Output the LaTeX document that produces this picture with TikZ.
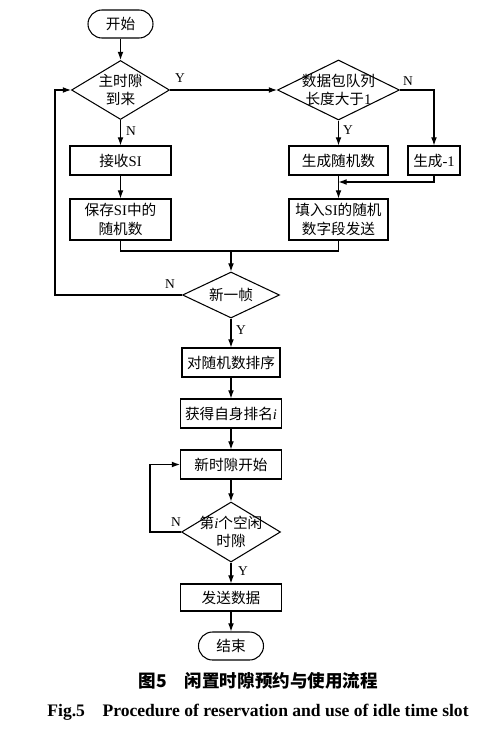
\documentclass[tikz,border=0pt]{standalone}
\usepackage{fontspec}
\setmainfont{Liberation Serif}
\newfontfamily\cjk{Noto Sans CJK SC}
\newcommand{\entext}[1]{{\rmfamily #1}}
\usetikzlibrary{calc}
\usetikzlibrary{positioning}
\usetikzlibrary{shapes.geometric}
\usetikzlibrary{arrows.meta}
\tikzstyle{termnode} = [draw, rectangle, rounded corners=0.42cm, minimum width=1.95cm, minimum height=0.84cm, inner sep=0pt]
\tikzstyle{procnode} = [draw, rectangle, minimum width=3.03cm, minimum height=0.87cm, inner sep=0pt, align=center]
\tikzstyle{decnode} = [draw, diamond, inner sep=0pt]
\tikzstyle{txtnode} = [inner sep=0pt, align=center]
\tikzstyle{ynlabel} = [inner sep=0pt, font=\fontsize{11.5}{11.5}\selectfont\rmfamily]
\tikzstyle{flow} = [-{Latex[length=7pt,width=5pt]}]

\begin{document}
\begin{tikzpicture}[x=0.03cm, y=-0.03cm, line width=0.9pt,
    every node/.append style={font=\fontsize{12.5}{16}\selectfont\cjk}]
\useasboundingbox (0,0) rectangle (490,732);

% upper part
\node[termnode] (start) at (120.5,24) {开始};
\node[decnode, minimum width=2.94cm, minimum height=1.77cm] (slot) at (120.5,90) {};
\node[txtnode] (slottxt) at (slot) {主时隙\\到来};
\node[decnode, minimum width=3.66cm, minimum height=1.8cm] (queue) at (338.5,90) {};
\node[txtnode] (queuetxt) at (queue) {数据包队列\\长度大于\entext{1}};
\node[procnode] (recv) at ($(slot)+(0,70.5)$) {接收\entext{SI}};
\node[procnode, minimum height=1.23cm] (save) at ($(recv)+(0,59)$) {保存\entext{SI}中的\\随机数};
\node[procnode, minimum width=2.97cm] (gen) at ($(queue)+(0,70.5)$) {生成随机数};
\node[procnode, minimum width=1.56cm] (genneg) at (434,160.5) {生成\entext{-1}};
\node[procnode, minimum width=2.97cm, minimum height=1.23cm] (fill) at ($(gen)+(0,59)$) {填入\entext{SI}的随机\\数字段发送};
\coordinate (merge) at (338.5,182);
\coordinate (join) at (231,251);
\coordinate (leftrail) at (55,200);

% lower part
\node[decnode, minimum width=2.91cm, minimum height=1.38cm] (frame) at (231,295) {};
\node[txtnode] (frametxt) at (frame) {新一帧};
\node[procnode, minimum width=2.94cm] (sort) at ($(frame)+(0,67.5)$) {对随机数排序};
\node[procnode] (rank) at ($(sort)+(0,51)$) {获得自身排名\entext{\itshape i}};
\node[procnode] (newslot) at ($(rank)+(0,51)$) {新时隙开始};
\node[decnode, minimum width=2.97cm, minimum height=1.8cm] (idle) at (231,532) {};
\node[txtnode] (idletxt) at (idle) {第\entext{\itshape i}个空闲\\时隙};
\node[procnode, minimum height=0.81cm] (send) at ($(idle)+(0,65.5)$) {发送数据};
\node[termnode] (stop) at (231,646) {结束};
\coordinate (idlerail) at (150,500);

\draw[flow] (start) -- (slot);
\draw[flow] (slot.east) -- (queue.west);
\draw[flow] (slot) -- (recv);
\draw[flow] (recv) -- (save);
\draw[flow] (queue) -- (gen);
\draw[flow] (queue.east) -| (genneg.north);
\draw[flow] (gen) -- (fill);
\draw[flow] (genneg.south) |- (merge);
\draw (save.south) |- (join);
\draw (fill.south) |- (join);
\draw[flow] (join) -- (frame.north);
\draw[flow] (frame.west) -| (leftrail) |- (slot.west);
\draw[flow] (frame) -- (sort);
\draw[flow] (sort) -- (rank);
\draw[flow] (rank) -- (newslot);
\draw[flow] (newslot) -- (idle);
\draw[flow] (idle.west) -| (idlerail) |- (newslot.west);
\draw[flow] (idle) -- (send);
\draw[flow] (send) -- (stop);

\node[ynlabel] (y1) at (180,78) {Y};
\node[ynlabel] (n1) at (131,131) {N};
\node[ynlabel] (y2) at (348,130) {Y};
\node[ynlabel] (n2) at (408,81) {N};
\node[ynlabel] (n3) at (170,284) {N};
\node[ynlabel] (y3) at (241,330) {Y};
\node[ynlabel] (n4) at (176,522) {N};
\node[ynlabel] (y4) at (243,571) {Y};

% caption
\node[inner sep=0pt, font=\fontsize{15}{15}\selectfont\cjk\bfseries] (capzh) at (258.5,681) {图5\quad 闲置时隙预约与使用流程};
\node[inner sep=0pt, font=\fontsize{15}{15}\selectfont\rmfamily\bfseries] (capen) at (258,712) {Fig.5\quad Procedure of reservation and use of idle time slot};
\end{tikzpicture}
\end{document}
